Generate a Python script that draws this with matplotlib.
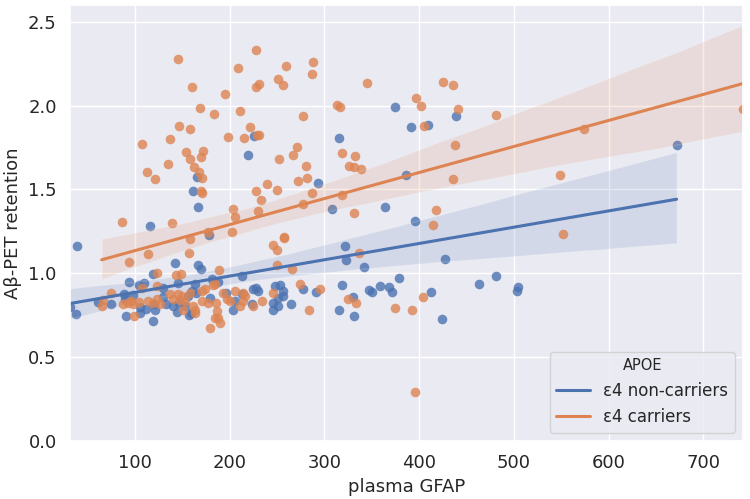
import numpy as np
import matplotlib
matplotlib.use("Agg")
import matplotlib.pyplot as plt
import seaborn as sns
from matplotlib.lines import Line2D

# ---- data ----
non_x = [225.7, 219, 165.7, 160.9, 166.8, 115.8, 178.5,
         374.6, 391.8, 409, 438.5, 315.4, 292.8, 386.5, 308, 363.7, 395.4,
         671.6,
         322, 323.1, 342, 427.7, 277.8, 290.8, 264.4, 318.2, 330.4, 315.4, 330.9,
         347.4, 350.6, 358.3, 368.4, 371.4, 379, 412.6, 424.4, 462.7, 481.2, 504.7, 503.4,
         38.4, 141.8, 166.8, 170, 119, 212.7, 94, 104.2, 109.5, 145.7, 162.9, 181.3,
         187.6, 129.8, 88.4, 97.9, 61.2, 74.3, 31.4, 37.7,
         89.4, 90.5, 105.3, 105.3, 111.3, 120, 121, 119.3, 129.1, 132.7, 140.4, 146.5,
         153, 159, 155.5, 143.9,
         159.9, 164.4, 157.2, 179.2, 196.1, 205.6, 203.8, 212.6, 223.2, 224.9, 230.2,
         227.8, 246, 246, 251.3, 247.8, 253.1, 256.5, 256.5, 251.3]
non_y = [1.816, 1.703, 1.573, 1.489, 1.393, 1.281, 1.228,
         1.994, 1.870, 1.884, 1.937, 1.808, 1.539, 1.589, 1.381, 1.397, 1.309,
         1.766,
         1.164, 1.080, 1.038, 1.086, 0.906, 0.886, 0.819, 0.932, 0.860, 0.780, 0.743,
         0.902, 0.888, 0.924, 0.918, 0.890, 0.972, 0.888, 0.726, 0.938, 0.982, 0.920, 0.892,
         1.160, 1.062, 1.048, 1.028, 0.994, 0.986, 0.950, 0.932, 0.944, 0.940, 0.936, 0.968,
         0.950, 0.912, 0.876, 0.870, 0.826, 0.816, 0.801, 0.760,
         0.847, 0.744, 0.764, 0.798, 0.788, 0.814, 0.784, 0.714, 0.860, 0.816, 0.804, 0.820,
         0.808, 0.766, 0.864, 0.768,
         0.894, 0.884, 0.754, 0.854, 0.884, 0.834, 0.784, 0.874, 0.814, 0.904, 0.894,
         0.914, 0.824, 0.784, 0.804, 0.924, 0.928, 0.894, 0.864, 0.854]

car_x = [145.7, 227.4, 209, 259, 160.5, 231, 227.8, 251, 256.6, 194.7, 168.3, 183.6,
         210.5, 277.4, 146.8, 158.4, 221.4, 136.6, 198.2, 215.4, 231, 228.5, 107, 270.6,
         153.5, 171.8, 158, 169.7, 266.4, 252.3, 134.4, 162.5, 167.8, 170.4, 280, 112.4,
         120.8, 282, 271.7, 239.4, 249.5, 228, 233.4, 169.9, 170.4, 203.4, 229.9, 205.6,
         277, 86, 139, 202.4, 177, 257.3,
         288, 287.2, 344.6, 425.2, 435.8, 313.6, 316.5, 396.3, 401.7, 440.6, 481.2, 405.2,
         438.1, 318.8, 332.6, 326.2, 331.5, 338.3, 286.9, 435.8, 318.8, 330.8, 417.4, 414.2,
         574.1, 548.4, 741.7, 551.3,
         336.1, 265.5, 274.2, 295.6, 284, 324.5, 333.4, 374.1, 392.7, 403.7,
         395.7,
         158.1, 113.7, 157.2, 93.7, 246, 250.3, 257.3, 250.3, 123.4, 143.3, 148.2, 188.7,
         107.4, 122.8, 184.1, 75, 66.5, 64.8,
         87.6, 92.9, 98.2, 95.8, 98.9, 103.9, 114, 119.2, 122.8, 126.4, 137, 140.4, 145.7,
         147.5, 149.3, 151,
         158.1, 170.4, 173.9, 182.7, 152.8, 161.5, 163.4, 163.4, 170.4, 177.4, 185.5, 186.3,
         188.1, 184.5, 189.8, 179.2, 192.5, 196.7, 200.3, 205.6, 210.9, 214.3, 214.3, 216.2,
         224.9, 233.8, 246]
car_y = [2.277, 2.333, 2.226, 2.238, 2.110, 2.13, 2.11, 2.157, 2.121, 2.068, 1.986, 1.952,
         1.970, 1.940, 1.876, 1.862, 1.870, 1.802, 1.814, 1.808, 1.826, 1.822, 1.770, 1.756,
         1.726, 1.732, 1.683, 1.693, 1.708, 1.683, 1.653, 1.631, 1.607, 1.567, 1.641, 1.603,
         1.561, 1.567, 1.549, 1.531, 1.497, 1.489, 1.437, 1.493, 1.479, 1.381, 1.373, 1.333,
         1.413, 1.303, 1.301, 1.247, 1.247, 1.217,
         2.259, 2.186, 2.136, 2.141, 2.123, 2.006, 1.994, 2.046, 2.0, 1.98, 1.946, 1.876,
         1.765, 1.715, 1.699, 1.641, 1.631, 1.621, 1.479, 1.561, 1.465, 1.359, 1.379, 1.289,
         1.862, 1.587, 1.98, 1.234,
         1.120, 1.028, 0.936, 0.904, 0.784, 0.844, 0.824, 0.796, 0.782, 0.860,
         0.291,
         1.204, 1.118, 1.120, 1.066, 1.169, 1.14, 1.208, 1.048, 1.004, 0.99, 0.994, 1.020,
         0.914, 0.926, 0.936, 0.880, 0.840, 0.806,
         0.818, 0.824, 0.816, 0.832, 0.744, 0.829, 0.832, 0.824, 0.844, 0.818, 0.874, 0.848,
         0.878, 0.840, 0.864, 0.784,
         0.884, 0.894, 0.904, 0.928, 0.834, 0.804, 0.784, 0.764, 0.834, 0.824, 0.824, 0.774,
         0.734, 0.734, 0.704, 0.674, 0.880, 0.844, 0.834, 0.894, 0.804, 0.884, 0.834, 0.864,
         0.804, 0.834, 0.884]

group_labels = ["ε4 non-carriers", "ε4 carriers"]
legend_title = "APOE"
x_label = "plasma GFAP"
y_label = "Aβ-PET retention"

# ---- plot ----
sns.set_theme(style="darkgrid")
colors = sns.color_palette("deep")
c_non, c_car = colors[0], colors[1]

fig = plt.figure(figsize=(7.5, 4.99), dpi=100)
ax = fig.add_axes([70 / 750, 1 - 441 / 499, 673 / 750, 436 / 499])

sk = dict(s=48, alpha=0.8, linewidths=0)
sns.regplot(x=np.array(non_x), y=np.array(non_y), ax=ax, color=c_non, truncate=True,
            scatter_kws=sk, line_kws=dict(lw=2.2), seed=1)
sns.regplot(x=np.array(car_x), y=np.array(car_y), ax=ax, color=c_car, truncate=True,
            scatter_kws=sk, line_kws=dict(lw=2.2), seed=1)

allx = np.array(non_x + car_x)
ax.set_xlim(allx.min(), allx.max())
ax.set_ylim(0, 2.6)
ax.set_xticks([100, 200, 300, 400, 500, 600, 700])
ax.set_yticks([0.0, 0.5, 1.0, 1.5, 2.0, 2.5])
ax.tick_params(labelsize=13)
ax.set_xlabel(x_label, fontsize=13)
ax.set_ylabel(y_label, fontsize=13)

handles = [Line2D([], [], color=c_non, lw=2.2), Line2D([], [], color=c_car, lw=2.2)]
ax.legend(handles, group_labels, title=legend_title, loc="lower right",
          fontsize=12, title_fontsize=10.5)

fig.savefig("out.png", dpi=100)
